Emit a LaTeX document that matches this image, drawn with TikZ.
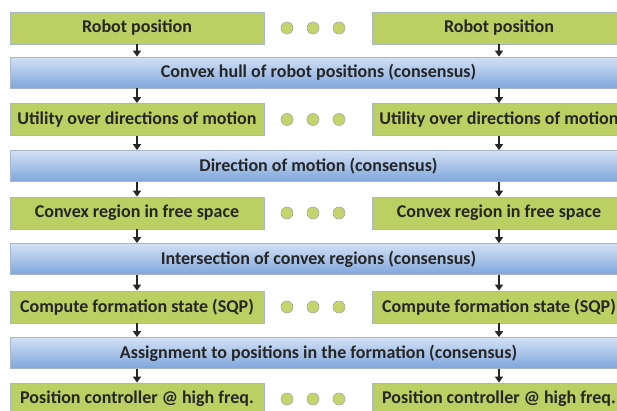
\documentclass[tikz,border=0pt]{standalone}
\usepackage{fontspec}
\setmainfont{Carlito}
\usepackage{tikz}
\usetikzlibrary{arrows.meta}
\definecolor{stepgreen}{HTML}{BBCF62}
\definecolor{stepline}{HTML}{A9B8C8}
\definecolor{bartop}{HTML}{D2E1F5}
\definecolor{barbot}{HTML}{7FA6DC}
\definecolor{dotfill}{HTML}{C5D56C}
\tikzset{
  robotbox/.style={draw=stepline, line width=0.8pt, fill=stepgreen, minimum width=254pt, minimum height=32pt, inner sep=0pt, font=\bfseries\fontsize{18}{20}\selectfont, text=black!85},
  consbar/.style={draw=stepline, line width=0.8pt, top color=bartop, bottom color=barbot, minimum width=617pt, minimum height=31pt, inner sep=0pt, font=\bfseries\fontsize{18}{20}\selectfont, text=black!85},
  dot/.style={circle, draw=black!35, line width=0.6pt, fill=dotfill, minimum size=12pt, inner sep=0pt},
  flow/.style={-{Triangle[width=8pt,length=6pt]}, line width=2pt, black!85}
}

\begin{document}
\begin{tikzpicture}[x=1pt,y=-1pt]
    \useasboundingbox (0,0) rectangle (617,410);

    \node[robotbox] (PosL) at (137,28) {Robot position};
    \node[robotbox] (PosR) at (499,28) {Robot position};
    \node[consbar] (Hull) at (318.5,72.5) {Convex hull of robot positions (consensus)};
    \node[robotbox] (UtilL) at (137,119.5) {Utility over directions of motion};
    \node[robotbox] (UtilR) at (499,119.5) {Utility over directions of motion};
    \node[consbar] (Dir) at (318.5,166) {Direction of motion (consensus)};
    \node[robotbox] (RegL) at (137,213) {Convex region in free space};
    \node[robotbox] (RegR) at (499,213) {Convex region in free space};
    \node[consbar] (Inter) at (318.5,259) {Intersection of convex regions (consensus)};
    \node[robotbox] (SqpL) at (137,307) {Compute formation state (SQP)};
    \node[robotbox] (SqpR) at (499,307) {Compute formation state (SQP)};
    \node[consbar] (Assign) at (318.5,353) {Assignment to positions in the formation (consensus)};
    \node[robotbox] (CtrlL) at (137,399) {Position controller @ high freq.};
    \node[robotbox] (CtrlR) at (499,399) {Position controller @ high freq.};

    % dots between the two robots
    \foreach \row/\y in {Pos/28, Util/119.5, Reg/213, Sqp/307, Ctrl/399}
      \foreach \k/\x in {1/287, 2/313, 3/339}
        \node[dot] (\row Dot\k) at (\x,\y) {};

    \foreach \side in {L,R} {
      \draw[flow] (Pos\side.south) -- (Pos\side.south |- Hull.north);
      \draw[flow] (Pos\side.south |- Hull.south) -- (Util\side.north);
      \draw[flow] (Util\side.south) -- (Util\side.south |- Dir.north);
      \draw[flow] (Util\side.south |- Dir.south) -- (Reg\side.north);
      \draw[flow] (Reg\side.south) -- (Reg\side.south |- Inter.north);
      \draw[flow] (Reg\side.south |- Inter.south) -- (Sqp\side.north);
      \draw[flow] (Sqp\side.south) -- (Sqp\side.south |- Assign.north);
      \draw[flow] (Sqp\side.south |- Assign.south) -- (Ctrl\side.north);
    }
\end{tikzpicture}
\end{document}
